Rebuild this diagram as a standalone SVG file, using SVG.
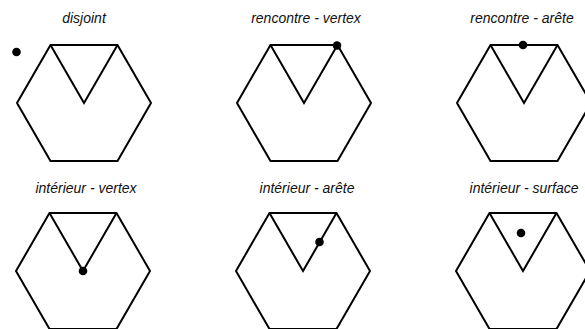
<svg xmlns="http://www.w3.org/2000/svg" width="585" height="329" viewBox="0 0 585 329">
<defs>
<style>
.hex{fill:none;stroke:#000;stroke-width:2;stroke-linejoin:miter}
.dot{fill:#000}
.lbl{font-family:"Liberation Sans",Arial,sans-serif;font-style:italic;font-size:14px;fill:#111;text-anchor:middle}
</style>
<path id="shape" class="hex" d="M-67,0 L-33.5,-58 L33.5,-58 L67,0 L33.5,58 L-33.5,58 Z M-33.5,-58 L0,0 L33.5,-58"/>
</defs>
<rect width="585" height="329" fill="#fff"/>
<g id="disjoint">
<text class="lbl" x="84" y="23">disjoint</text>
<use href="#shape" x="84" y="103"/>
<circle class="dot" cx="16.5" cy="52" r="4.3"/>
</g>
<g id="rencontre-vertex">
<text class="lbl" x="306" y="23">rencontre - vertex</text>
<use href="#shape" x="304" y="103"/>
<circle class="dot" cx="337" cy="45.5" r="4.3"/>
</g>
<g id="rencontre-arete">
<text class="lbl" x="522" y="23">rencontre - arête</text>
<use href="#shape" x="524" y="103"/>
<circle class="dot" cx="523" cy="45" r="4.3"/>
</g>
<g id="interieur-vertex">
<text class="lbl" x="86" y="193">intérieur - vertex</text>
<use href="#shape" x="83" y="271"/>
<circle class="dot" cx="83" cy="271" r="4.3"/>
</g>
<g id="interieur-arete">
<text class="lbl" x="307" y="193">intérieur - arête</text>
<use href="#shape" x="303" y="271"/>
<circle class="dot" cx="319.5" cy="242" r="4.3"/>
</g>
<g id="interieur-surface">
<text class="lbl" x="524" y="193">intérieur - surface</text>
<use href="#shape" x="523" y="271"/>
<circle class="dot" cx="521" cy="233" r="4.3"/>
</g>
<g id="connectors"></g>
</svg>
